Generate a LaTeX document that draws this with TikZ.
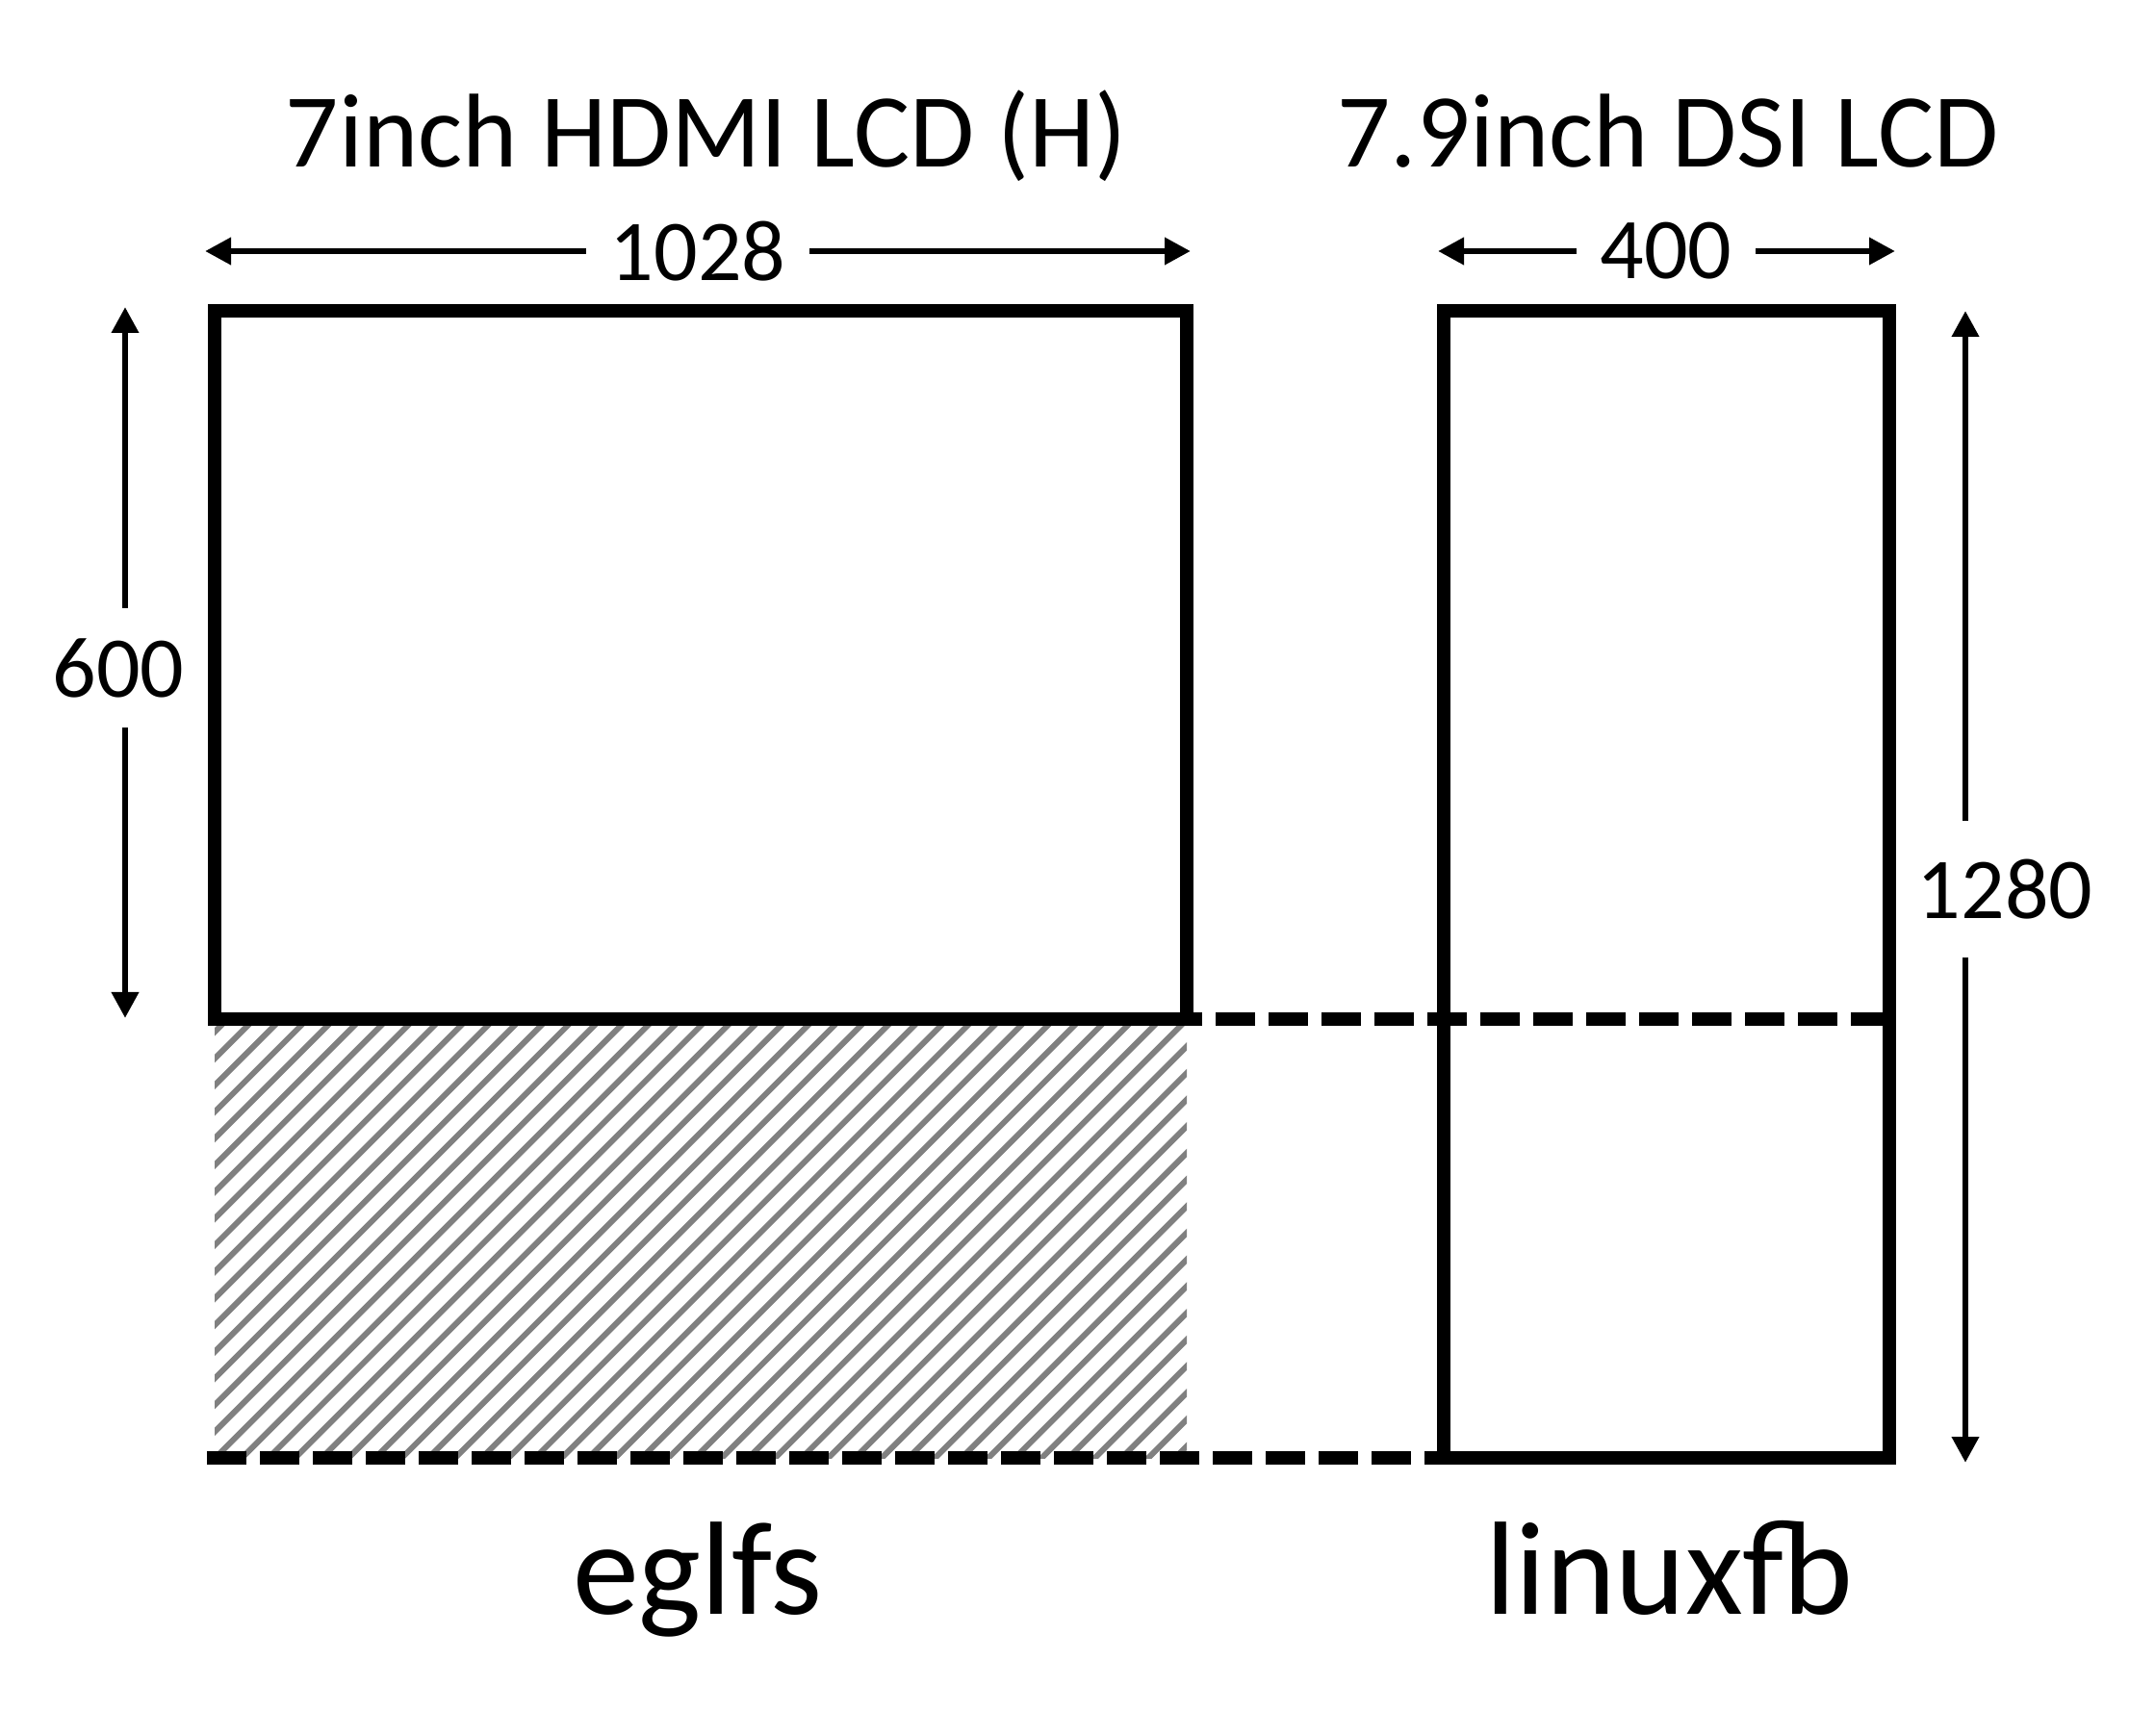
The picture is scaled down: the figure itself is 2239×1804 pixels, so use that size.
\documentclass[tikz,border=0pt]{standalone}
\usepackage{fontspec}
\setmainfont{Carlito}
\usetikzlibrary{arrows.meta}
\tikzset{
  screen/.style={draw=black, line width=4.2pt, line join=miter, inner sep=0pt, outer sep=0pt, anchor=north west},
  dashline/.style={draw=black, line width=4.2pt, dash pattern=on 12.3pt off 4.2pt},
  hatchline/.style={draw=gray, line width=1.8pt},
  dimarrow/.style={draw=black, line width=2pt, -{Triangle[width=8.1pt,length=8.1pt]}},
  dimlabel/.style={font=\fontsize{27}{30}\selectfont, inner xsep=7.5pt, inner ysep=9pt, outer sep=0pt},
  titlelabel/.style={font=\fontsize{32.7}{36}\selectfont, anchor=base, inner sep=0pt},
  modelabel/.style={font=\fontsize{41.4}{46}\selectfont, anchor=base, inner sep=0pt}
}
\begin{document}
\begin{tikzpicture}[x=0.3pt, y=-0.3pt]
\useasboundingbox (0,0) rectangle (2239,1804);
\fill[white] (0,0) rectangle (2239,1804);

% hatched area below the left screen
\begin{scope}
  \clip (223,1059) rectangle (1233,1515);
  \foreach \k in {0,...,58} {
    \draw[hatchline] ({\k*27.7-320},1560) -- ++(640,-640);
  }
\end{scope}

% dashed guide lines
\coordinate (d1a) at (218,1059);
\coordinate (d1b) at (1964,1059);
\coordinate (d2a) at (215,1515);
\coordinate (d2b) at (1500,1515);
\draw[dashline] (d1a) -- (d1b);
\draw[dashline] (d2a) -- (d2b);

% screens
\node[screen, minimum width=303pt, minimum height=220.8pt] (hdmi) at (223,323) {};
\node[screen, minimum width=138.9pt, minimum height=357.6pt] (dsi) at (1500,323) {};

% titles
\node[titlelabel] (t1) at (734,174) {7inch HDMI LCD (H)};
\node[titlelabel] (t2) at (1733,174) {7.9inch DSI LCD};

% width of left screen
\coordinate (w1a) at (213,261);
\coordinate (w1b) at (1237,261);
\node[dimlabel] (w1) at (725,261) {1028};
\draw[dimarrow] (w1) -- (w1a);
\draw[dimarrow] (w1) -- (w1b);

% width of right screen
\coordinate (w2a) at (1494,261);
\coordinate (w2b) at (1969,261);
\node[dimlabel] (w2) at (1731,261) {400};
\draw[dimarrow] (w2) -- (w2a);
\draw[dimarrow] (w2) -- (w2b);

% height of left screen
\coordinate (h1a) at (130,319);
\coordinate (h1b) at (130,1058);
\node[dimlabel, inner ysep=9.5pt] (h1) at (123,694) {600};
\draw[dimarrow] (h1.north -| h1a) -- (h1a);
\draw[dimarrow] (h1.south -| h1b) -- (h1b);

% height of right screen
\coordinate (h2a) at (2042,323);
\coordinate (h2b) at (2042,1520);
\node[dimlabel, inner ysep=12pt] (h2) at (2083,924) {1280};
\draw[dimarrow] (h2.north -| h2a) -- (h2a);
\draw[dimarrow] (h2.south -| h2b) -- (h2b);

% mode labels
\node[modelabel] (m1) at (725,1677) {eglfs};
\node[modelabel] (m2) at (1734,1677) {linuxfb};
\end{tikzpicture}
\end{document}
